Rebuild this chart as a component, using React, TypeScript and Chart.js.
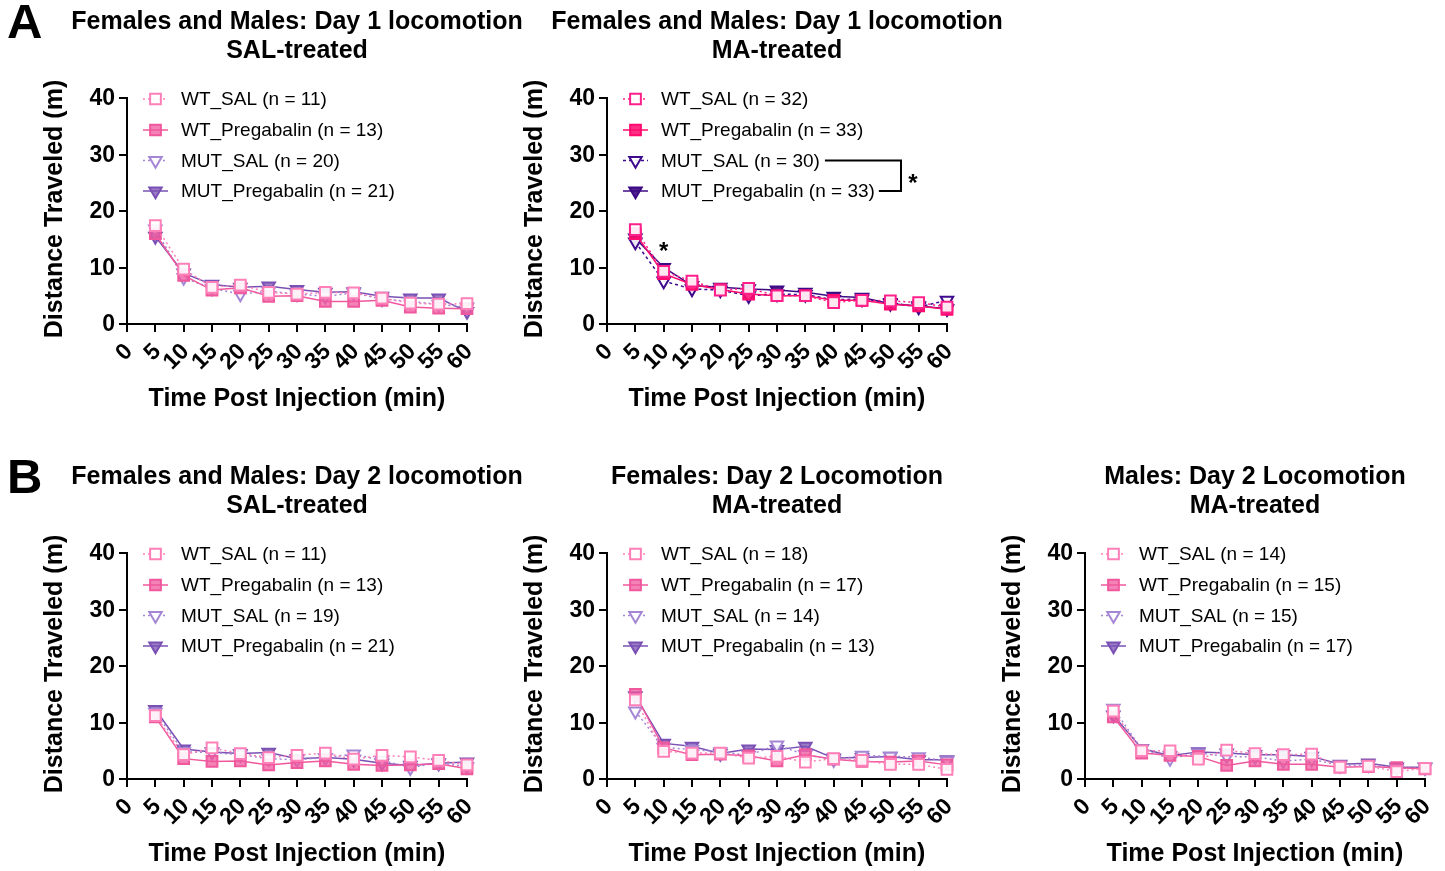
import React, { useEffect, useRef } from 'react';
import { Chart, registerables } from 'chart.js';

Chart.register(...registerables);

const FONT = '"Liberation Sans", Arial, Helvetica, sans-serif';

// ---------- data ----------
const timePoints = [5, 10, 15, 20, 25, 30, 35, 40, 45, 50, 55, 60];
const xTickValues = [0, 5, 10, 15, 20, 25, 30, 35, 40, 45, 50, 55, 60];
const yTickValues = [0, 10, 20, 30, 40];
const seriesNames = ['WT_SAL', 'WT_Pregabalin', 'MUT_SAL', 'MUT_Pregabalin'];

const a1WtSal = [17.4, 9.7, 6.5, 6.9, 5.6, 5.3, 5.6, 5.5, 4.6, 3.7, 3.5, 3.6];
const a1WtPreg = [16.0, 8.6, 6.0, 6.4, 4.9, 5.0, 4.0, 4.0, 4.2, 3.0, 2.8, 2.7];
const a1MutSal = [16.8, 8.2, 6.3, 5.3, 5.8, 5.3, 4.9, 5.5, 4.4, 4.0, 3.5, 3.0];
const a1MutPreg = [15.5, 9.0, 7.0, 6.5, 6.7, 6.1, 5.6, 5.7, 4.9, 4.6, 4.6, 2.2];
const a1N = [11, 13, 20, 21];

const a2WtSal = [16.7, 9.3, 7.6, 6.0, 6.3, 5.0, 5.0, 3.8, 4.2, 4.1, 3.8, 3.0];
const a2WtPreg = [16.0, 8.9, 7.0, 6.1, 5.3, 5.0, 5.0, 4.2, 4.2, 3.5, 3.2, 2.6];
const a2MutSal = [14.5, 7.6, 6.2, 6.0, 5.0, 5.3, 5.2, 4.3, 4.4, 3.8, 3.0, 4.2];
const a2MutPreg = [15.2, 10.0, 6.8, 6.5, 6.2, 6.0, 5.6, 4.9, 4.7, 3.6, 3.2, 2.7];
const a2N = [32, 33, 30, 33];

const b1WtSal = [11.2, 4.3, 5.5, 4.5, 3.8, 4.2, 4.6, 3.5, 4.2, 3.9, 3.3, 2.5];
const b1WtPreg = [11.0, 3.6, 3.1, 3.2, 2.5, 2.9, 3.2, 2.6, 2.4, 2.5, 2.7, 1.8];
const b1MutSal = [11.8, 4.8, 4.7, 4.3, 3.6, 3.4, 3.8, 4.4, 3.3, 2.0, 2.9, 2.2];
const b1MutPreg = [12.3, 5.3, 4.8, 4.5, 4.7, 3.6, 3.8, 3.5, 2.8, 2.4, 2.8, 3.0];
const b1N = [11, 13, 19, 21];

const b2WtSal = [14.0, 4.9, 4.6, 4.6, 3.7, 4.0, 3.0, 3.6, 3.3, 2.6, 2.6, 1.7];
const b2WtPreg = [15.0, 5.5, 4.3, 4.4, 4.1, 3.2, 4.3, 3.5, 3.1, 3.0, 3.2, 2.5];
const b2MutSal = [12.0, 5.6, 5.2, 4.8, 4.2, 6.0, 4.3, 3.4, 4.2, 4.0, 3.9, 3.2];
const b2MutPreg = [14.7, 6.3, 5.8, 4.5, 5.3, 5.2, 5.8, 3.7, 3.8, 4.0, 3.4, 3.4];
const b2N = [18, 17, 14, 13];

const b3WtSal = [12.0, 5.0, 5.0, 3.5, 5.1, 4.5, 4.3, 4.4, 2.1, 2.3, 1.3, 1.9];
const b3WtPreg = [11.0, 4.6, 4.2, 4.0, 2.4, 3.2, 2.6, 2.6, 2.1, 2.2, 2.0, 1.8];
const b3MutSal = [12.5, 5.3, 3.6, 4.6, 4.0, 3.9, 3.2, 3.5, 2.4, 2.5, 1.8, 2.0];
const b3MutPreg = [11.3, 5.4, 4.1, 4.8, 4.6, 4.3, 4.3, 4.0, 2.6, 2.8, 2.1, 2.1];
const b3N = [14, 15, 15, 17];

// ---------- styles ----------
type SeriesStyle = { color: string; fill: string; dash: number[]; shape: 'square' | 'triangle'; open: boolean };

const lightPalette: SeriesStyle[] = [
  { color: '#FF80B8', fill: 'rgba(255,255,255,0.9)', dash: [2, 3], shape: 'square', open: true },
  { color: '#F0589D', fill: 'rgba(240,88,157,0.75)', dash: [], shape: 'square', open: false },
  { color: '#A586D5', fill: 'rgba(255,255,255,0.9)', dash: [2, 3], shape: 'triangle', open: true },
  { color: '#7A50B4', fill: 'rgba(122,80,180,0.75)', dash: [], shape: 'triangle', open: false },
];
const darkPalette: SeriesStyle[] = [
  { color: '#FF1F8A', fill: 'rgba(255,255,255,0.9)', dash: [2, 3], shape: 'square', open: true },
  { color: '#FF0A6E', fill: 'rgba(255,10,110,0.85)', dash: [], shape: 'square', open: false },
  { color: '#3E0A8E', fill: 'rgba(255,255,255,0.9)', dash: [3, 3], shape: 'triangle', open: true },
  { color: '#3C0A84', fill: 'rgba(60,10,132,0.9)', dash: [], shape: 'triangle', open: false },
];

type PanelCfg = {
  key: string;
  left: number;
  top: number;
  width: number;
  letter?: string;
  title: [string, string];
  values: number[][];
  ns: number[];
  palette: SeriesStyle[];
  extras?: boolean;
};

const panels: PanelCfg[] = [
  { key: 'a1', left: 0, top: 0, width: 530, letter: 'A', title: ['Females and Males: Day 1 locomotion', 'SAL-treated'], values: [a1WtSal, a1WtPreg, a1MutSal, a1MutPreg], ns: a1N, palette: lightPalette },
  { key: 'a2', left: 480, top: 0, width: 530, title: ['Females and Males: Day 1 locomotion', 'MA-treated'], values: [a2WtSal, a2WtPreg, a2MutSal, a2MutPreg], ns: a2N, palette: darkPalette, extras: true },
  { key: 'b1', left: 0, top: 455, width: 530, letter: 'B', title: ['Females and Males: Day 2 locomotion', 'SAL-treated'], values: [b1WtSal, b1WtPreg, b1MutSal, b1MutPreg], ns: b1N, palette: lightPalette },
  { key: 'b2', left: 480, top: 455, width: 530, title: ['Females: Day 2 Locomotion', 'MA-treated'], values: [b2WtSal, b2WtPreg, b2MutSal, b2MutPreg], ns: b2N, palette: lightPalette },
  { key: 'b3', left: 958, top: 455, width: 487, title: ['Males: Day 2 Locomotion', 'MA-treated'], values: [b3WtSal, b3WtPreg, b3MutSal, b3MutPreg], ns: b3N, palette: lightPalette },
];

const CANVAS_H = 416;
const AREA_LEFT = 127;
const AREA_RIGHT = 467;
const AREA_TOP = 98;
const AREA_BOTTOM = 324;
const TICK_LEN = 8;
const POINT_R_SQ = 7.6;
const POINT_R_TRI = 7.2;

function drawMarker(ctx: CanvasRenderingContext2D, st: SeriesStyle, x: number, y: number) {
  ctx.save();
  ctx.setLineDash([]);
  ctx.lineWidth = 2;
  ctx.strokeStyle = st.color;
  ctx.fillStyle = st.fill;
  ctx.beginPath();
  if (st.shape === 'square') {
    const s = POINT_R_SQ * Math.SQRT1_2;
    ctx.rect(x - s, y - s, 2 * s, 2 * s);
  } else {
    const r = POINT_R_TRI;
    ctx.moveTo(x, y + r);
    ctx.lineTo(x - r * Math.sqrt(3) / 2, y - r / 2);
    ctx.lineTo(x + r * Math.sqrt(3) / 2, y - r / 2);
    ctx.closePath();
  }
  ctx.fill();
  ctx.stroke();
  ctx.restore();
}

function makeDecorPlugin(cfg: PanelCfg) {
  return {
    id: 'panelDecor_' + cfg.key,
    afterDraw(chart: any) {
      const ctx: CanvasRenderingContext2D = chart.ctx;
      const xs = chart.scales.x;
      const ys = chart.scales.y;
      const area = chart.chartArea;
      const cx = (area.left + area.right) / 2;
      ctx.save();
      ctx.fillStyle = '#000';

      if (cfg.letter) {
        ctx.font = `bold 49px ${FONT}`;
        ctx.textAlign = 'left';
        ctx.textBaseline = 'alphabetic';
        ctx.fillText(cfg.letter, 7, 38);
      }

      // title
      ctx.font = `bold 25px ${FONT}`;
      ctx.textAlign = 'center';
      ctx.textBaseline = 'middle';
      ctx.fillText(cfg.title[0], cx, 22);
      ctx.fillText(cfg.title[1], cx, 51);

      // y ticks
      ctx.font = `bold 23px ${FONT}`;
      ctx.textAlign = 'right';
      ctx.textBaseline = 'middle';
      yTickValues.forEach((v) => {
        ctx.fillText(String(v), area.left - TICK_LEN - 4, ys.getPixelForValue(v) + 1);
      });

      // y title
      ctx.save();
      ctx.translate(55, (area.top + area.bottom) / 2 - 2);
      ctx.rotate(-Math.PI / 2);
      ctx.font = `bold 25px ${FONT}`;
      ctx.textAlign = 'center';
      ctx.textBaseline = 'middle';
      ctx.fillText('Distance Traveled (m)', 0, 0);
      ctx.restore();

      // x ticks (rotated 45°)
      ctx.font = `bold 23px ${FONT}`;
      xTickValues.forEach((v) => {
        const px = xs.getPixelForValue(v);
        ctx.save();
        ctx.translate(px + 2, area.bottom + TICK_LEN + 16);
        ctx.rotate(-Math.PI / 4);
        ctx.textAlign = 'right';
        ctx.textBaseline = 'middle';
        ctx.fillText(String(v), 0, 0);
        ctx.restore();
      });

      // x title
      ctx.font = `bold 25px ${FONT}`;
      ctx.textAlign = 'center';
      ctx.textBaseline = 'middle';
      ctx.fillText('Time Post Injection (min)', cx, 399);

      // legend
      const rowY = [99, 130, 160.5, 191];
      const textEnds: number[] = [];
      ctx.font = `19px ${FONT}`;
      seriesNames.forEach((name, i) => {
        const st = cfg.palette[i];
        const y = rowY[i];
        ctx.save();
        ctx.strokeStyle = st.color;
        ctx.lineWidth = 1.5;
        ctx.setLineDash(st.dash);
        ctx.beginPath();
        ctx.moveTo(143, y);
        ctx.lineTo(168, y);
        ctx.stroke();
        ctx.restore();
        drawMarker(ctx, st, 155.5, y);
        const label = `${name} (n = ${cfg.ns[i]})`;
        ctx.fillStyle = '#000';
        ctx.textAlign = 'left';
        ctx.textBaseline = 'middle';
        ctx.fillText(label, 181, y + 1);
        textEnds.push(181 + ctx.measureText(label).width);
      });

      if (cfg.extras) {
        // significance bracket between MUT groups
        const bx = 421;
        ctx.strokeStyle = '#000';
        ctx.lineWidth = 2;
        ctx.setLineDash([]);
        ctx.beginPath();
        ctx.moveTo(textEnds[2] + 5, rowY[2]);
        ctx.lineTo(bx, rowY[2]);
        ctx.lineTo(bx, rowY[3]);
        ctx.lineTo(textEnds[3] + 4, rowY[3]);
        ctx.stroke();
        ctx.font = `bold 24px ${FONT}`;
        ctx.textAlign = 'center';
        ctx.textBaseline = 'middle';
        ctx.fillText('*', 433, 184);
        // asterisk at 10 min
        ctx.fillText('*', xs.getPixelForValue(10), ys.getPixelForValue(13.5) + 5);
      }
      ctx.restore();
    },
  };
}

function Panel({ cfg }: { cfg: PanelCfg }) {
  const ref = useRef<HTMLCanvasElement>(null);
  useEffect(() => {
    if (!ref.current) return;
    const datasets = cfg.values.map((vals, i) => {
      const st = cfg.palette[i];
      return {
        label: seriesNames[i],
        data: timePoints.map((t, j) => ({ x: t, y: vals[j] })),
        borderColor: st.color,
        backgroundColor: st.fill,
        borderWidth: 1.5,
        borderDash: st.dash,
        pointStyle: st.shape === 'square' ? 'rect' : 'triangle',
        rotation: st.shape === 'square' ? 0 : 180,
        pointRadius: st.shape === 'square' ? POINT_R_SQ : POINT_R_TRI,
        pointBorderWidth: 2,
        pointBackgroundColor: st.fill,
        pointBorderColor: st.color,
        tension: 0,
        clip: false as any,
      };
    });
    const axisCommon = {
      type: 'linear' as const,
      grid: { drawOnChartArea: false, drawTicks: true, tickLength: TICK_LEN, color: '#000', lineWidth: 2 },
      border: { display: true, color: '#000', width: 2 },
    };
    const chart = new Chart(ref.current, {
      type: 'line',
      data: { datasets: datasets as any },
      options: {
        responsive: false,
        animation: false,
        devicePixelRatio: 1,
        layout: {
          padding: {
            left: AREA_LEFT - TICK_LEN,
            right: cfg.width - AREA_RIGHT,
            top: AREA_TOP,
            bottom: CANVAS_H - AREA_BOTTOM - TICK_LEN,
          },
        },
        plugins: { legend: { display: false }, tooltip: { enabled: false }, title: { display: false } },
        scales: {
          x: { ...axisCommon, min: 0, max: 60, ticks: { display: false, stepSize: 5 } },
          y: { ...axisCommon, min: 0, max: 40, ticks: { display: false, stepSize: 10 } },
        },
      },
      plugins: [makeDecorPlugin(cfg)],
    });
    return () => chart.destroy();
  }, [cfg]);
  return (
    <canvas
      ref={ref}
      width={cfg.width}
      height={CANVAS_H}
      style={{ position: 'absolute', left: cfg.left, top: cfg.top, width: cfg.width, height: CANVAS_H }}
    />
  );
}

export default function App() {
  return (
    <div style={{ position: 'fixed', left: 0, top: 0, width: 1445, height: 871, background: '#fff', overflow: 'hidden' }}>
      {panels.map((p) => (
        <Panel key={p.key} cfg={p} />
      ))}
    </div>
  );
}
